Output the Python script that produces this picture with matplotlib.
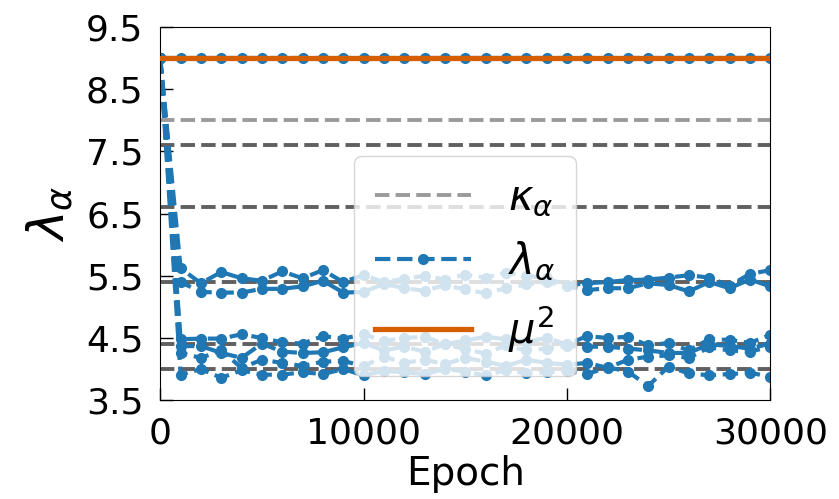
import numpy as np
import matplotlib
matplotlib.use("Agg")
import matplotlib.pyplot as plt

# -----------------------------
# Datos
# -----------------------------
epochs = np.arange(0, 31000, 1000)

kappa = [8.0, 7.6, 6.6, 5.4, 4.4, 4.0]
mu2 = 9.0

lam_top = [9.0] * 31
lam_a = [9.0, 5.62, 5.38, 5.56, 5.46, 5.42, 5.57, 5.46, 5.59, 5.40, 5.51, 5.40, 5.45, 5.50, 5.44, 5.52,
         5.47, 5.55, 5.50, 5.46, 5.35, 5.38, 5.40, 5.43, 5.44, 5.47, 5.51, 5.47, 5.34, 5.53, 5.59]
lam_b = [9.0, 5.40, 5.24, 5.23, 5.23, 5.29, 5.29, 5.33, 5.42, 5.23, 5.24, 5.37, 5.30, 5.26, 5.35, 5.28,
         5.22, 5.30, 5.36, 5.40, 5.33, 5.27, 5.30, 5.30, 5.38, 5.35, 5.25, 5.40, 5.30, 5.44, 5.33]
lam_c = [9.0, 4.48, 4.49, 4.49, 4.56, 4.50, 4.43, 4.41, 4.53, 4.49, 4.56, 4.45, 4.50, 4.52, 4.40, 4.46,
         4.52, 4.48, 4.44, 4.50, 4.40, 4.53, 4.50, 4.52, 4.38, 4.42, 4.30, 4.48, 4.47, 4.42, 4.55]
lam_d = [9.0, 4.37, 4.37, 4.26, 4.18, 4.41, 4.28, 4.26, 4.27, 4.35, 4.42, 4.30, 4.36, 4.28, 4.40, 4.32,
         4.25, 4.38, 4.30, 4.33, 4.37, 4.36, 4.36, 4.33, 4.30, 4.26, 4.26, 4.40, 4.37, 4.33, 4.41]
lam_e = [9.0, 4.26, 4.18, 4.30, 4.02, 4.15, 4.10, 4.05, 4.12, 4.13, 4.05, 4.20, 4.10, 4.15, 4.08, 4.18,
         4.12, 4.05, 4.15, 4.10, 4.07, 4.10, 4.02, 4.15, 4.20, 4.22, 4.18, 4.35, 4.30, 4.28, 4.36]
lam_f = [9.0, 3.91, 4.00, 3.86, 3.98, 3.91, 3.91, 3.95, 3.92, 4.00, 3.90, 3.97, 3.95, 3.92, 4.00, 3.96,
         3.90, 3.98, 3.93, 3.95, 3.97, 3.92, 4.03, 3.96, 3.73, 4.04, 3.93, 3.90, 3.92, 3.94, 3.88]
lambdas = [lam_top, lam_a, lam_b, lam_c, lam_d, lam_e, lam_f]

yticks = [3.5, 4.5, 5.5, 6.5, 7.5, 8.5, 9.5]
xticks = [0, 10000, 20000, 30000]

# -----------------------------
# Grafico
# -----------------------------
plt.rcParams['font.size'] = 26

fig = plt.figure(figsize=(8.39, 4.99), dpi=100)
ax = fig.add_axes([0.191, 0.198, 0.727, 0.748])

for i, k in enumerate(kappa):
    if i == 0:
        ax.axhline(k, color='#9a9a9a', ls='--', lw=2.8, label=r'$\kappa_\alpha$', zorder=1)
    else:
        ax.axhline(k, color='#606060', ls='--', lw=2.8, zorder=1)

for i, lam in enumerate(lambdas):
    ax.plot(epochs, lam, ls='--', marker='o', ms=7, lw=3, color='#1f77b4',
            label=r'$\lambda_\alpha$' if i == 0 else None, zorder=2)

ax.axhline(mu2, color='#d55e00', lw=3.8, label=r'$\mu^2$', zorder=3)

ax.set_xlim(0, 30000)
ax.set_ylim(3.5, 9.5)
ax.set_xticks(xticks)
ax.set_yticks(yticks)
ax.tick_params(direction='in', length=9, width=1, pad=12)
ax.set_xlabel('Epoch', fontsize=28, labelpad=3)
ax.set_ylabel(r'$\lambda_\alpha$', fontsize=36, labelpad=8)

ax.legend(loc='center', bbox_to_anchor=(0.5, 0.36), fontsize=30, handlelength=2.3,
          labelspacing=0.5, framealpha=0.8, borderpad=0.5, handletextpad=0.9)

fig.savefig('out.png', dpi=100)
